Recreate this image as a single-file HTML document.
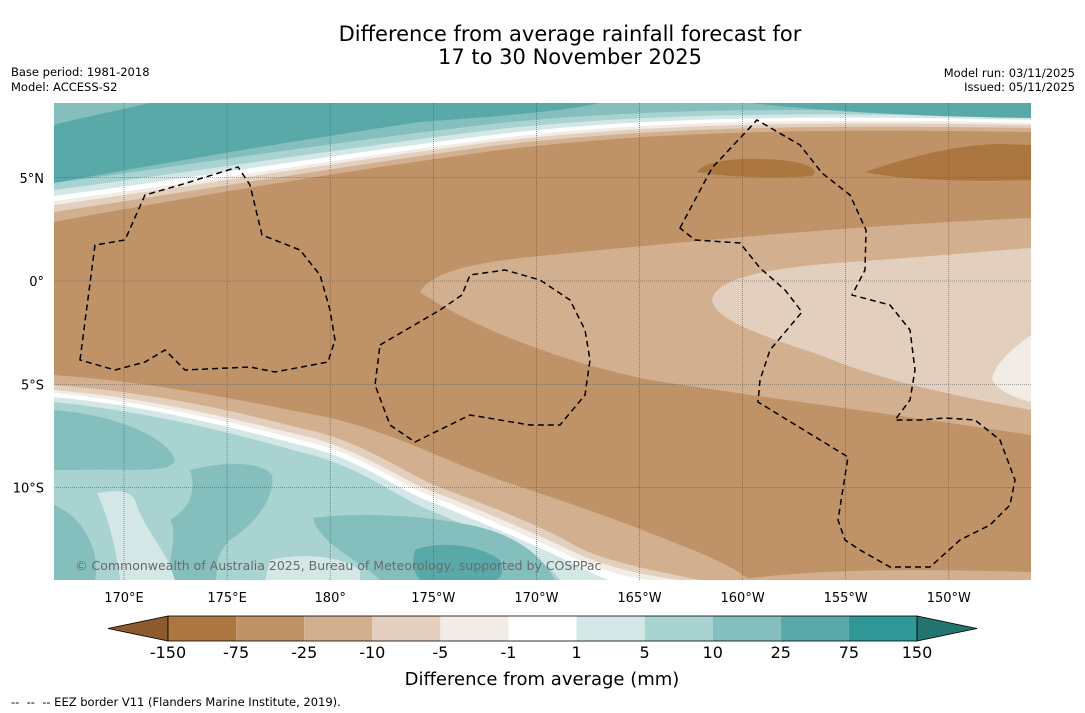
<!DOCTYPE html>
<html><head><meta charset="utf-8"><style>
body{margin:0;background:#fff;font-family:"Liberation Sans","DejaVu Sans",sans-serif}
svg{display:block}
text{font-family:"DejaVu Sans","Liberation Sans",sans-serif}
</style></head><body>
<svg id="s" width="1085" height="713" viewBox="0 0 1085 713">
<defs><clipPath id="mc"><rect x="54" y="103" width="977" height="477"/></clipPath></defs>
<text x="570" y="41" text-anchor="middle" font-size="21">Difference from average rainfall forecast for</text>
<text x="570" y="64" text-anchor="middle" font-size="21">17 to 30 November 2025</text>
<text x="11" y="76" font-size="11.5">Base period: 1981-2018</text>
<text x="11" y="91" font-size="11.5">Model: ACCESS-S2</text>
<text x="1075" y="77" font-size="11.5" text-anchor="end">Model run: 03/11/2025</text>
<text x="1075" y="91" font-size="11.5" text-anchor="end">Issued: 05/11/2025</text>

<g clip-path="url(#mc)">
<rect x="54" y="103" width="977" height="477" fill="#bf9268"/>
<path d="M54,103H1031V132C800,128 650,132 500,150C350,170 200,195 54,222Z" fill="#d2b08f"/>
<path d="M54,103H1031V128C800,124 650,128 500,145C350,165 200,190 54,212Z" fill="#e3cfbd"/>
<path d="M54,103H1031V125C800,121 650,124 500,141C350,160 200,185 54,205Z" fill="#f2ece6"/>
<path d="M54,103H1031V123C800,118 650,121 500,138C350,157 200,182 54,201Z" fill="#ffffff"/>
<path d="M54,103H1031V120C800,115 650,117 500,134C350,152 200,177 54,196Z" fill="#d3e8e6"/>
<path d="M54,103H1031V117C800,112 650,113 500,129C350,147 200,171 54,190Z" fill="#a8d3d1"/>
<path d="M54,103H1031V113C800,108 650,108 500,123C350,140 200,163 54,183Z" fill="#84bfbe"/>
<path d="M54,125C80,118 110,112 150,103H600C560,112 500,116 420,122C300,140 180,160 54,183Z" fill="#5aa9a9"/>
<path d="M750,103H1031V118C950,117 850,114 750,103Z" fill="#5aa9a9"/>
<path d="M865,172C900,160 950,145 1000,144L1031,145V180C970,182 900,180 865,172Z" fill="#ab763f"/>
<path d="M697,172C705,160 740,157 780,160C810,163 820,170 812,176C780,178 730,178 697,172Z" fill="#ab763f"/>
<path d="M420,292C430,275 460,265 520,258C650,245 850,225 1031,218V435C900,415 780,400 650,380C550,360 460,320 420,292Z" fill="#d2b08f"/>
<path d="M712,300C715,280 760,268 850,262C950,255 1000,250 1031,248V410C950,395 880,380 820,355C760,335 715,320 712,300Z" fill="#e3cfbd"/>
<path d="M1031,335C1010,350 995,365 992,378C995,390 1015,398 1031,402Z" fill="#f2ece6"/>
<path d="M54,375C150,382 230,398 300,412C380,425 430,455 500,480C560,500 620,520 680,545C720,560 740,572 750,580H54Z" fill="#d2b08f"/>
<path d="M740,580C800,570 900,568 1031,572V580Z" fill="#d2b08f"/>
<path d="M54,385C150,392 230,410 300,428C360,440 400,470 434,485C500,510 550,530 574,545C600,560 650,570 700,580H54Z" fill="#e3cfbd"/>
<path d="M54,390C150,398 230,418 300,435C360,448 400,480 434,492C500,518 550,540 574,552C600,565 640,575 680,580H54Z" fill="#f2ece6"/>
<path d="M54,393C150,402 230,422 300,440C360,452 400,486 434,497C500,524 550,546 574,558C600,570 630,578 650,580H54Z" fill="#ffffff"/>
<path d="M54,397C150,406 230,427 300,445C360,458 400,492 434,503C500,530 550,552 574,564C590,572 600,578 610,580H54Z" fill="#d3e8e6"/>
<path d="M54,402C150,412 230,432 300,452C360,465 400,500 434,512C500,540 545,558 560,580H54Z" fill="#a8d3d1"/>
<path d="M54,410C120,415 170,440 175,460C172,475 120,468 80,470C70,470 60,470 54,470Z" fill="#84bfbe"/>
<path d="M190,470C220,462 260,460 272,475C275,495 260,520 230,540C210,560 220,575 215,580H165C175,550 175,525 170,520C195,505 195,485 190,470Z" fill="#84bfbe"/>
<path d="M313,518C360,512 420,515 470,525C520,535 545,560 555,580H380C360,560 320,545 313,518Z" fill="#84bfbe"/>
<path d="M415,550C440,540 480,545 500,560C505,572 500,580 495,580H420C412,570 412,560 415,550Z" fill="#5aa9a9"/>
<path d="M54,505C90,520 100,560 95,580H54Z" fill="#84bfbe"/>
<path d="M97,493C115,490 130,490 135,500C140,520 160,545 170,565L175,580H120C118,560 110,520 97,493Z" fill="#d3e8e6"/>
<path d="M270,560C300,553 340,555 360,570V580H265Z" fill="#d3e8e6"/>
</g>

<g id="grid" stroke="#555" stroke-width="0.6" stroke-dasharray="1,1"></g>
<g fill="none" stroke="#000" stroke-width="1.5" stroke-dasharray="6,4" clip-path="url(#mc)">
<path d="M80,360L95,245L125,240L145,195L180,185L238,167L250,185L262,235L300,250L320,275L330,310L335,340L328,362L275,372L250,367L185,370L165,350L145,362L115,370Z"/>
<path d="M380,345L440,310L462,295L470,275L505,270L540,280L570,300L585,330L590,360L585,395L560,425L530,425L470,415L415,442L390,425L375,385Z"/>
<path d="M680,228L712,168L757,120L800,145L822,173L850,195L866,230L865,270L852,295L890,305L910,330L915,370L910,400L895,420L920,420L945,418L975,420L1000,440L1015,480L1010,505L990,525L960,540L930,567L890,567L860,550L845,540L838,520L848,457L758,402L760,380L770,350L802,312L785,290L760,268L740,243L695,240Z"/>
</g>
<text x="75" y="570" font-size="12.5" fill="#6a6a6a">© Commonwealth of Australia 2025, Bureau of Meteorology, supported by COSPPac</text>
<g id="axes" font-size="13"></g>
<g id="cbar"></g>
<text x="542" y="685" text-anchor="middle" font-size="18">Difference from average (mm)</text>
<text x="11" y="706" font-size="11.5" xml:space="preserve">--  --  -- EEZ border V11 (Flanders Marine Institute, 2019).</text>
</svg>
<script>
const lonLabels=["170°E","175°E","180°","175°W","170°W","165°W","160°W","155°W","150°W"];
const lonValues=[170,175,180,185,190,195,200,205,210];
const latLabels=["5°N","0°","5°S","10°S"];
const latValues=[5,0,-5,-10];
const levelLabels=["-150","-75","-25","-10","-5","-1","1","5","10","25","75","150"];
const binColors=["#ab763f","#bf9268","#d2b08f","#e3cfbd","#f2ece6","#ffffff","#d3e8e6","#a8d3d1","#84bfbe","#5aa9a9","#2f9795"];
const lowColor="#8c5a2c", highColor="#23736f";
const NS="http://www.w3.org/2000/svg";
const xLon=l=>124+(l-170)*20.62, yLat=l=>281-l*20.65;
function mk(t,a,p){const e=document.createElementNS(NS,t);for(const k in a)e.setAttribute(k,a[k]);p.appendChild(e);return e;}
const grid=document.getElementById('grid'),axes=document.getElementById('axes');
lonValues.forEach((v,i)=>{const x=xLon(v);
 const l=mk('line',{x1:x,x2:x,y1:103,y2:580},grid);
 
 
 const t=mk('text',{x:x,y:602,'text-anchor':'middle'},axes);t.textContent=lonLabels[i];
 
 });
latValues.forEach((v,i)=>{const y=yLat(v);
 const l=mk('line',{x1:54,x2:1031,y1:y,y2:y},grid);
 
 
 const t=mk('text',{x:44,y:y+5,'text-anchor':'end'},axes);t.textContent=latLabels[i];
 
 });
const cb=document.getElementById('cbar');
const x0=168,x1=917,y0=616,h=25,w=(x1-x0)/binColors.length;
const lt=mk('polygon',{points:`108,${y0+h/2} ${x0},${y0} ${x0},${y0+h}`,fill:lowColor,stroke:'#000','stroke-width':0.8},cb);


const ht=mk('polygon',{points:`977,${y0+h/2} ${x1},${y0} ${x1},${y0+h}`,fill:highColor,stroke:'#000','stroke-width':0.8},cb);


binColors.forEach((c,i)=>{const r=mk('rect',{x:x0+i*w,y:y0,width:w,height:h,fill:c},cb);
 
 });
mk('rect',{x:x0,y:y0,width:x1-x0,height:h,fill:'none',stroke:'#000','stroke-width':0.8},cb);
levelLabels.forEach((s,i)=>{const t=mk('text',{x:x0+i*w,y:658,'text-anchor':'middle','font-size':16},cb);t.textContent=s;
 
 });
</script>
</body></html>
